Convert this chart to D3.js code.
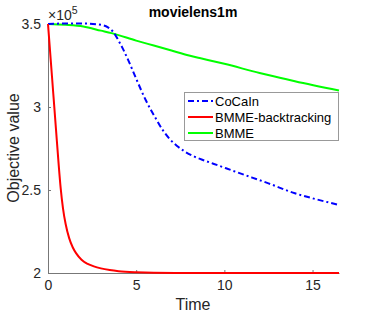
<!DOCTYPE html>
<html><head><meta charset="utf-8">
<script src="https://cdn.jsdelivr.net/npm/d3@7"></script>
<style>body{margin:0;background:#fff}text{font-family:"Liberation Sans",Arial,sans-serif}</style>
</head><body><svg id="c" width="374" height="316"></svg>
<script>
const xTicks=[0,5,10,15];
const yTicks=[2,2.5,3,3.5];
const yTickLabels=["2","2.5","3","3.5"];
const seriesNames=["CoCaIn","BMME-backtracking","BMME"];
const cocainT=[0,1,2,3,3.4,3.7,4.0,4.25,4.6,5.03,5.54,6.16,6.5,6.92,7.3,7.77,8.2,8.71,9.7,10.9,12.5,14,15,16.5];
const cocainV=[3.5,3.503,3.503,3.495,3.48,3.452,3.40,3.35,3.27,3.163,3.042,2.922,2.862,2.805,2.767,2.731,2.706,2.684,2.646,2.60,2.54,2.48,2.45,2.41];
const bbT=[0,0.15,0.3,0.45,0.6,0.72,0.85,1.0,1.2,1.4,1.6,1.9,2.25,2.6,3.0,3.5,4,5,6,8,10,12,14,16.5];
const bbV=[3.5,3.29,3.08,2.87,2.66,2.51,2.39,2.295,2.21,2.155,2.118,2.08,2.055,2.04,2.028,2.018,2.011,2.004,2.001,2.0,2.0,2.0,2.0,2.0];
const bmmeT=[0,1,2,3,3.6,5,6,7,8,8.6,10,12,13.2,14,16.5];
const bmmeV=[3.5,3.495,3.485,3.46,3.445,3.40,3.37,3.34,3.31,3.295,3.26,3.205,3.175,3.155,3.10];

const svg=d3.select("#c");
const L=48,R=339,T=24,B=273;
const x=d3.scaleLinear().domain([0,16.5]).range([L,R]);
const y=d3.scaleLinear().domain([2,3.5]).range([B,T]);
const axisCol="#777", txtCol="#262626";

const gx=svg.append("g").attr("transform",`translate(0,${B})`)
 .call(d3.axisBottom(x).tickValues(xTicks).tickSizeInner(-3).tickSizeOuter(0).tickPadding(7));
const gy=svg.append("g").attr("transform",`translate(${L},0)`)
 .call(d3.axisLeft(y).tickValues(yTicks).tickFormat((d,i)=>yTickLabels[i]).tickSizeInner(-3).tickSizeOuter(0).tickPadding(7));
[gx,gy].forEach(g=>{g.select(".domain").attr("stroke",axisCol);g.selectAll(".tick line").attr("stroke",axisCol);
 g.selectAll(".tick text").attr("fill",txtCol).style("font-size","14px").style("font-family","'Liberation Sans',Arial,sans-serif");});

const line=d3.line().x(d=>x(d[0])).y(d=>y(d[1])).curve(d3.curveMonotoneX);
const zip=(a,b)=>a.map((v,i)=>[v,b[i]]);
svg.append("path").attr("d",line(zip(bmmeT,bmmeV))).attr("fill","none").attr("stroke","#00ff00").attr("stroke-width",2);
svg.append("path").attr("d",line(zip(cocainT,cocainV))).attr("fill","none").attr("stroke","#0000ff").attr("stroke-width",2).attr("stroke-dasharray","6,3,2,3");
svg.append("path").attr("d",line(zip(bbT,bbV))).attr("fill","none").attr("stroke","#ff0000").attr("stroke-width",2);

svg.append("text").attr("x",193).attr("y",17).attr("text-anchor","middle").attr("font-weight","bold").style("font-size","14px").attr("fill","#000").text("movielens1m");
const ex=svg.append("text").attr("x",48).attr("y",20).attr("fill",txtCol).style("font-size","14px");
ex.append("tspan").text("×10");
ex.append("tspan").attr("dy",-6).style("font-size","10.5px").text("5");
svg.append("text").attr("transform","translate(19,148) rotate(-90)").attr("text-anchor","middle").attr("fill",txtCol).style("font-size","16px").text("Objective value");
svg.append("text").attr("x",193).attr("y",310).attr("text-anchor","middle").attr("fill",txtCol).style("font-size","16px").text("Time");

const lg=svg.append("g");
lg.append("rect").attr("x",184.5).attr("y",92.5).attr("width",154).attr("height",48).attr("fill","#fff").attr("stroke","#999");
const cols=["#0000ff","#ff0000","#00ff00"],dash=["6,3,2,3",null,null];
seriesNames.forEach((n,i)=>{
 const yy=101+i*16;
 lg.append("line").attr("x1",188).attr("x2",213).attr("y1",yy).attr("y2",yy).attr("stroke",cols[i]).attr("stroke-width",2).attr("stroke-dasharray",dash[i]);
 lg.append("text").attr("x",215).attr("y",yy+4.5).attr("fill","#000").style("font-size","13px").text(n);
});
</script></body></html>
